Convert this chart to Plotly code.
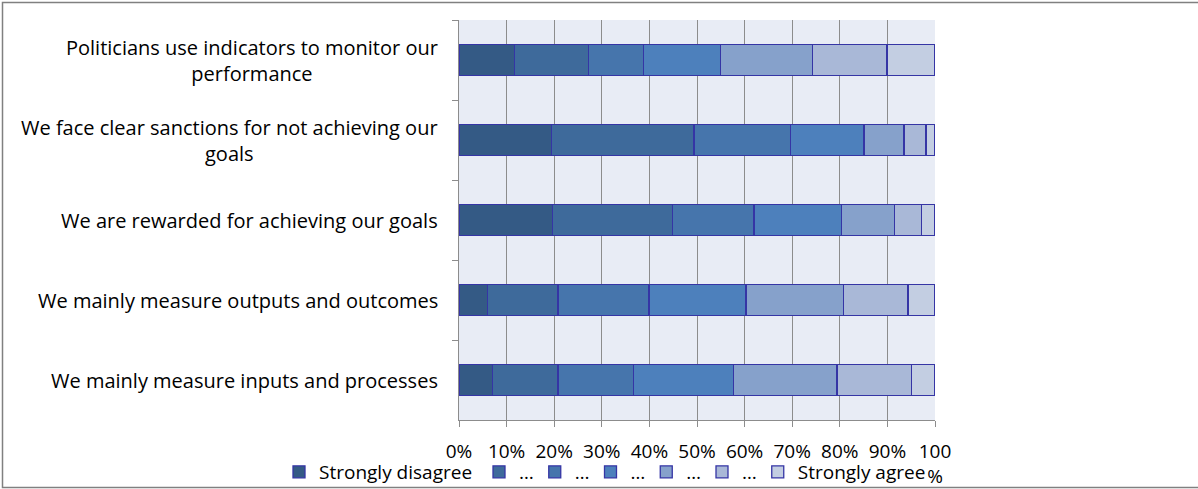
import plotly.graph_objects as go

categories = [
    "Politicians use indicators to monitor our<br>performance",
    "We face clear sanctions for not achieving our<br>goals",
    "We are rewarded for achieving our goals",
    "We mainly measure outputs and outcomes",
    "We mainly measure inputs and processes",
]
category_ids = ["c1", "c2", "c3", "c4", "c5"]

series_names = ["Strongly disagree", "…", "…", "…", "…", "…", "Strongly agree"]

# percentages per category (top to bottom), one list per response level
level1 = [11.6, 19.4, 19.7, 6.0, 7.0]
level2 = [15.6, 30.0, 25.1, 14.8, 13.8]
level3 = [11.6, 20.3, 17.2, 19.1, 15.9]
level4 = [16.2, 15.4, 18.4, 20.4, 20.9]
level5 = [19.2, 8.4, 11.1, 20.5, 21.8]
level6 = [15.7, 4.6, 5.6, 13.5, 15.6]
level7 = [10.1, 1.9, 2.9, 5.7, 5.0]
series_values = [level1, level2, level3, level4, level5, level6, level7]

colors = ["#345a85", "#3e6a9b", "#4675ac", "#4d80bc", "#86a1cb", "#a9b8d7", "#c3cee2"]
legend_widths = [155, 10.75, 10.75, 10.75, 10.75, 10.75, 140]

tick_vals = [0, 10, 20, 30, 40, 50, 60, 70, 80, 90, 100]
tick_text = ["0%", "10%", "20%", "30%", "40%", "50%", "60%", "70%", "80%", "90%", "100<br>%"]

FONT = "Open Sans"
FS = 20
FS_LEG = 19
FS_TICK = 19
GRID = "#8c8c8c"

fig = go.Figure()
for name, vals, col, lw in zip(series_names, series_values, colors, legend_widths):
    fig.add_trace(go.Bar(
        y=category_ids, x=vals, name=name, orientation="h", legendwidth=lw,
        marker=dict(color=col, line=dict(color="#3535a5", width=1.3)),
    ))

W, H = 1198, 489
L, R, T, B = 459, 263, 20, 69
pw, ph = W - L - R, H - T - B

def px_x(x):
    return (x - L) / pw

def px_y(y):
    return (H - B - y) / ph

annotations = []
for cid, label in zip(category_ids, categories):
    annotations.append(dict(
        x=0, xref="paper", y=cid, yref="y", xanchor="right", yanchor="middle",
        xshift=-19, text=label, align="center", showarrow=False,
        font=dict(family=FONT, size=FS, color="#000000"),
    ))

fig.update_layout(
    width=W, height=H,
    margin=dict(l=L, r=R, t=T, b=B, autoexpand=False),
    barmode="stack", bargap=0.61,
    paper_bgcolor="white", plot_bgcolor="#e8ecf5",
    font=dict(family=FONT, size=FS, color="#000000"),
    showlegend=True,
    legend=dict(
        orientation="h", x=px_x(279), xanchor="left", y=px_y(453), yanchor="top",
        traceorder="normal", itemwidth=30, bgcolor="rgba(0,0,0,0)",
        font=dict(family=FONT, size=FS_LEG, color="#000000"),
        itemclick=False, itemdoubleclick=False,
    ),
    xaxis=dict(
        range=[0, 100], tickvals=tick_vals, ticktext=tick_text,
        showgrid=True, gridcolor=GRID, gridwidth=1.3,
        showline=True, linecolor=GRID, linewidth=1.3,
        ticks="outside", ticklen=6, tickcolor=GRID, tickwidth=1.3,
        ticklabelstandoff=8, zeroline=False, fixedrange=True, automargin=False,
        tickfont=dict(family=FONT, size=FS_TICK, color="#000000"),
    ),
    yaxis=dict(
        categoryorder="array", categoryarray=category_ids, autorange="reversed",
        showticklabels=False, showgrid=False,
        showline=True, linecolor=GRID, linewidth=1.3,
        ticks="outside", ticklen=6, tickcolor=GRID, tickwidth=1.3,
        tickson="boundaries", zeroline=False, fixedrange=True, automargin=False,
    ),
    annotations=annotations,
    shapes=[dict(
        type="rect", xref="paper", yref="paper",
        x0=px_x(2.5), x1=px_x(1210), y0=px_y(487.5), y1=px_y(2.5),
        line=dict(color="#808080", width=1.5), fillcolor="rgba(0,0,0,0)", layer="below",
    )],
)

fig.write_html(
    "out.html",
    config={"displayModeBar": False},
    post_script="document.body.style.margin='0';document.body.style.padding='0';document.body.style.overflow='hidden';",
)
